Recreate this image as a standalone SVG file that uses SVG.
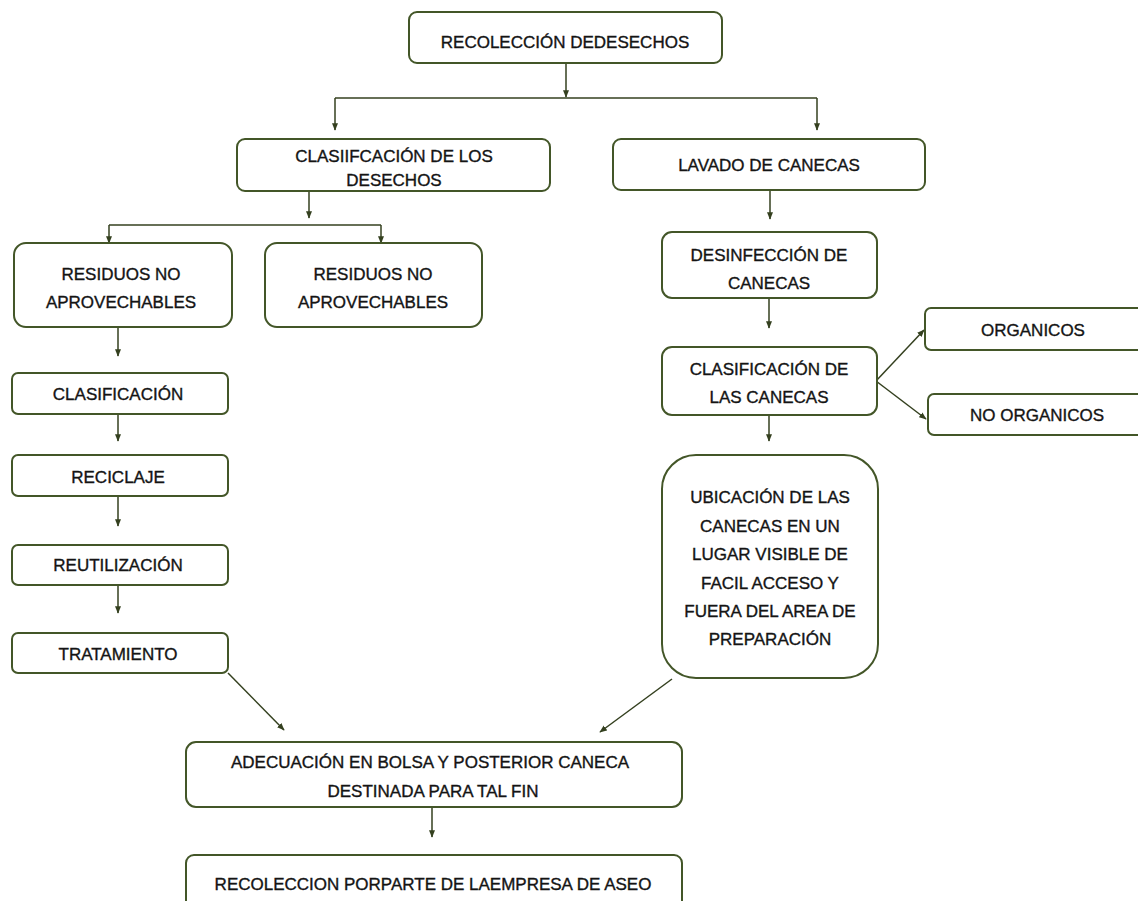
<svg xmlns="http://www.w3.org/2000/svg" width="1138" height="901" viewBox="0 0 1138 901">
<defs>
<marker id="ah" viewBox="0 0 10 10" refX="9" refY="5" markerWidth="5" markerHeight="5" orient="auto"><path d="M0,1 L10,5 L0,9 z" fill="#34401f"/></marker>
<style>
.box{fill:#fff;stroke:#435628;stroke-width:2}
.t{font-family:"Liberation Sans",Arial,sans-serif;font-size:17px;fill:#141414;stroke:#141414;stroke-width:0.35;text-anchor:middle}
.c{fill:none;stroke:#34401f;stroke-width:1.5;marker-end:url(#ah)}
.l{fill:none;stroke:#34401f;stroke-width:1.5}
</style>
</defs>
<rect width="1138" height="901" fill="#fff"/>
<g id="connectors">
<path class="c" d="M566,63 V97"/>
<path class="l" d="M335,98 H817"/>
<path class="c" d="M335,98 V130"/>
<path class="c" d="M817,98 V130"/>
<path class="c" d="M309,191 V218"/>
<path class="l" d="M109,225 H381"/>
<path class="c" d="M109,225 V243"/>
<path class="c" d="M381,225 V243"/>
<path class="c" d="M770,190 V219"/>
<path class="c" d="M769,298 V328"/>
<path class="c" d="M769,415 V441"/>
<path class="c" d="M876,381 L924,330"/>
<path class="c" d="M876,381 L926,419"/>
<path class="c" d="M118,327 V356"/>
<path class="c" d="M118,414 V441"/>
<path class="c" d="M118,496 V526"/>
<path class="c" d="M118,585 V613"/>
<path class="c" d="M228,673 L284,730"/>
<path class="c" d="M672,679 L600,732"/>
<path class="c" d="M432,807 V837"/>
</g>
<g id="n1"><rect class="box" x="409" y="12" width="313" height="51" rx="8"/><text class="t" x="565" y="48">RECOLECCIÓN DEDESECHOS</text></g>
<g id="n2"><rect class="box" x="237" y="139" width="313" height="52" rx="8"/><text class="t" x="394" y="162">CLASIIFCACIÓN DE LOS</text><text class="t" x="394" y="186">DESECHOS</text></g>
<g id="n3"><rect class="box" x="613" y="139" width="312" height="51" rx="8"/><text class="t" x="769" y="171">LAVADO DE CANECAS</text></g>
<g id="n4"><rect class="box" x="14" y="243" width="218" height="84" rx="12"/><text class="t" x="121" y="280">RESIDUOS NO</text><text class="t" x="121" y="308">APROVECHABLES</text></g>
<g id="n5"><rect class="box" x="265" y="243" width="217" height="84" rx="12"/><text class="t" x="373" y="280">RESIDUOS NO</text><text class="t" x="373" y="308">APROVECHABLES</text></g>
<g id="n6"><rect class="box" x="662" y="232" width="215" height="66" rx="10"/><text class="t" x="769" y="261">DESINFECCIÓN DE</text><text class="t" x="769" y="289">CANECAS</text></g>
<g id="n7"><rect class="box" x="662" y="347" width="215" height="68" rx="10"/><text class="t" x="769" y="375">CLASIFICACIÓN DE</text><text class="t" x="769" y="403">LAS CANECAS</text></g>
<g id="n8"><rect class="box" x="925" y="308" width="220" height="42" rx="6"/><text class="t" x="1033" y="336">ORGANICOS</text></g>
<g id="n9"><rect class="box" x="928" y="394" width="220" height="41" rx="6"/><text class="t" x="1037" y="421">NO ORGANICOS</text></g>
<g id="n10"><rect class="box" x="662" y="455" width="216" height="223" rx="34"/>
<text class="t" x="770" y="503">UBICACIÓN DE LAS</text>
<text class="t" x="770" y="532">CANECAS EN UN</text>
<text class="t" x="770" y="560">LUGAR VISIBLE DE</text>
<text class="t" x="770" y="589">FACIL ACCESO Y</text>
<text class="t" x="770" y="617">FUERA DEL AREA DE</text>
<text class="t" x="770" y="645">PREPARACIÓN</text></g>
<g id="n11"><rect class="box" x="12" y="373" width="216" height="41" rx="6"/><text class="t" x="118" y="400">CLASIFICACIÓN</text></g>
<g id="n12"><rect class="box" x="12" y="455" width="216" height="41" rx="6"/><text class="t" x="118" y="483">RECICLAJE</text></g>
<g id="n13"><rect class="box" x="12" y="545" width="216" height="40" rx="6"/><text class="t" x="118" y="571">REUTILIZACIÓN</text></g>
<g id="n14"><rect class="box" x="12" y="633" width="216" height="40" rx="6"/><text class="t" x="118" y="660">TRATAMIENTO</text></g>
<g id="n15"><rect class="box" x="186" y="742" width="496" height="65" rx="10"/><text class="t" x="430" y="768">ADECUACIÓN EN BOLSA Y POSTERIOR CANECA</text><text class="t" x="433" y="797">DESTINADA PARA TAL FIN</text></g>
<g id="n16"><rect class="box" x="186" y="855" width="496" height="60" rx="8"/><text class="t" x="433" y="890">RECOLECCION PORPARTE DE LAEMPRESA DE ASEO</text></g>
</svg>
